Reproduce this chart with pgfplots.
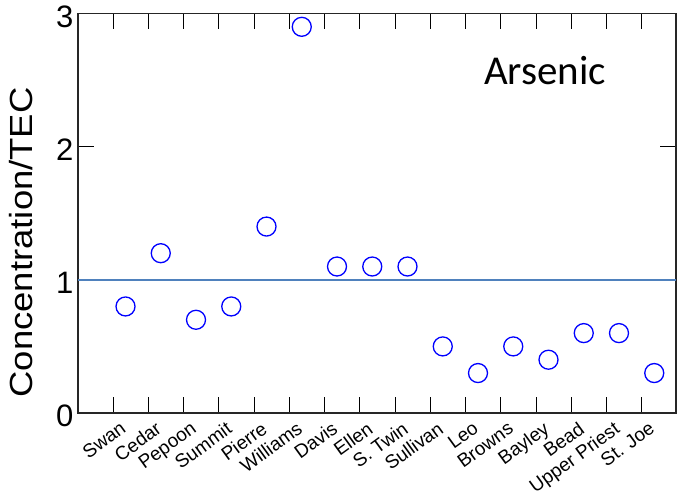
\documentclass[border=0pt]{standalone}
\usepackage{pgfplots}
\pgfplotsset{compat=1.18}
\usepackage{fontspec}
\setmainfont{Liberation Sans}
\newfontfamily\carlito{Carlito}
\definecolor{refline}{RGB}{79,129,189}
\begin{document}
\begin{tikzpicture}[x=1pt,y=1pt]
\begin{axis}[
  at={(0pt,0pt)}, anchor=south west,
  scale only axis, width=598pt, height=399.5pt,
  xmin=-1.348, xmax=15.617, ymin=0, ymax=3,
  ytick={0,1,2,3},
  xtick={-0.355,0.645,1.645,2.645,3.645,4.645,5.645,6.645,7.645,8.645,9.645,10.645,11.645,12.645,13.645,14.645},
  xticklabels={},
  extra x ticks={0,1,2,3,4,5,6,7,8,9,10,11,12,13,14,15},
  extra x tick labels={Swan,Cedar,Pepoon,Summit,Pierre,Williams,Davis,Ellen,S. Twin,Sullivan,Leo,Browns,Bayley,Bead,Upper Priest,St. Joe},
  extra x tick style={major tick length=0pt,
    xticklabel style={font=\fontsize{19}{19}\selectfont, xshift=-6pt, yshift=-6pt, rotate=36, anchor=north east, inner sep=1pt}},
  tick align=inside,
  major tick length=16pt,
  tick style={black, line width=0.9pt},
  axis line style={black!85, line width=1.6pt},
  /pgf/number format/assume math mode=true,
  yticklabel style={font=\fontsize{31}{31}\selectfont, xshift=-1pt, yshift=-3pt},
  ylabel={\scalebox{1.14}[1]{Concentration/TEC}},
  ylabel style={font=\fontsize{32}{32}\selectfont, at={(axis description cs:-0.0945,0.427)}, anchor=center},
  clip=false,
]
\addplot[refline, line width=1.6pt] coordinates {(-1.348,1) (15.617,1)};
\addplot[only marks, mark=o, mark size=9.5pt, mark options={blue, line width=1.3pt}]
coordinates {
(0,0.8) (1,1.2) (2,0.7) (3,0.8) (4,1.4) (5,2.9) (6,1.1) (7,1.1)
(8,1.1) (9,0.5) (10,0.3) (11,0.5) (12,0.4) (13,0.6) (14,0.6) (15,0.3)
};
\node[font=\carlito\fontsize{41}{41}\selectfont] at (axis description cs:0.781,0.857) {Arsenic};
\end{axis}
\pgfresetboundingbox
\path (-78pt,-84pt) rectangle (600pt,413pt);
\end{tikzpicture}
\end{document}
